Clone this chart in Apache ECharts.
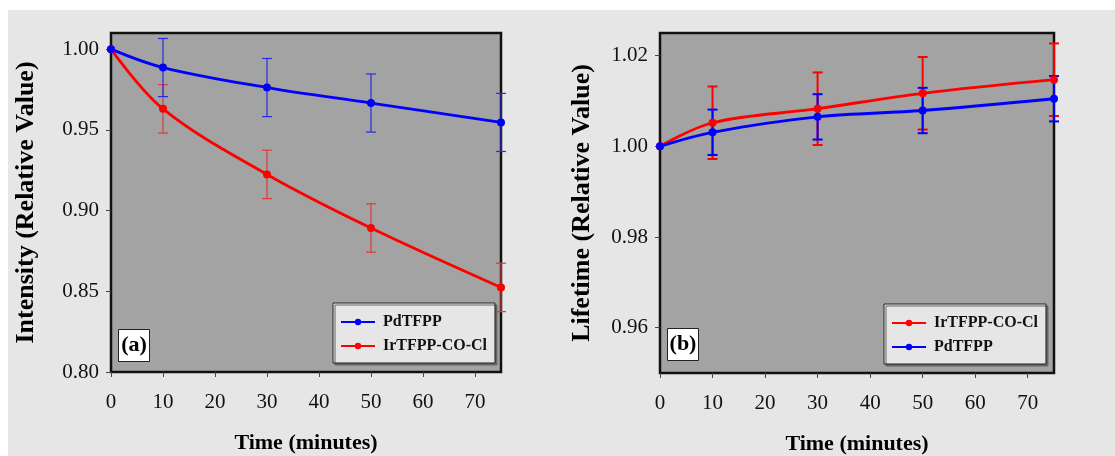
<!DOCTYPE html>
<html>
<head>
<meta charset="utf-8">
<script src="https://cdn.jsdelivr.net/npm/echarts@6/dist/echarts.min.js"></script>
<style>
  html, body { margin: 0; padding: 0; background: #fff; }
  #chart { width: 1115px; height: 456px; }
</style>
</head>
<body>
<div id="chart"></div>
<script>
// sampling times (minutes)
const timeMin = [0, 10, 30, 50, 75]
const xTicks = [0, 10, 20, 30, 40, 50, 60, 70]

// (a) intensity, relative value
const intPd = [1.000, 0.9886, 0.9762, 0.9666, 0.9546]
const intPdErr = [0, 0.018, 0.018, 0.018, 0.018]
const intIr = [1.000, 0.9630, 0.9224, 0.8892, 0.8524]
const intIrErr = [0, 0.015, 0.015, 0.015, 0.015]
const intTicks = [0.80, 0.85, 0.90, 0.95, 1.00]

// (b) lifetime, relative value
const lifeIr = [1.000, 1.0052, 1.0083, 1.0117, 1.0147]
const lifeIrErr = [0, 0.008, 0.008, 0.008, 0.008]
const lifePd = [1.000, 1.0031, 1.0065, 1.0079, 1.0105]
const lifePdErr = [0, 0.005, 0.005, 0.005, 0.005]
const lifeTicks = [0.96, 0.98, 1.00, 1.02]

const FONT = 'Liberation Serif'
const BLUE = '#0000ff'
const RED = '#ff0000'

const myChart = echarts.init(document.getElementById('chart'))

const lineSeries = (name, ys, color, idx) => ({
  name: name,
  type: 'line',
  xAxisIndex: idx,
  yAxisIndex: idx,
  data: timeMin.map((t, i) => [t, ys[i]]),
  smooth: 0.35,
  symbol: 'circle',
  symbolSize: 8,
  lineStyle: { color: color, width: 2.8 },
  itemStyle: { color: color },
  z: 5
})

// error bars drawn with a custom series
const errSeries = (name, ys, errs, color, width, idx) => ({
  name: name,
  type: 'custom',
  xAxisIndex: idx,
  yAxisIndex: idx,
  clip: false,
  silent: true,
  z: 3,
  data: timeMin
    .map((t, i) => [t, ys[i] - errs[i], ys[i] + errs[i], errs[i]])
    .filter(d => d[3] > 0),
  renderItem: function (params, api) {
    const top = api.coord([api.value(0), api.value(2)])
    const bot = api.coord([api.value(0), api.value(1)])
    const cap = 5
    const style = { stroke: color, lineWidth: width }
    return {
      type: 'group',
      children: [
        { type: 'line', shape: { x1: top[0], y1: top[1], x2: bot[0], y2: bot[1] }, style: style },
        { type: 'line', shape: { x1: top[0] - cap, y1: top[1], x2: top[0] + cap, y2: top[1] }, style: style },
        { type: 'line', shape: { x1: bot[0] - cap, y1: bot[1], x2: bot[0] + cap, y2: bot[1] }, style: style }
      ]
    }
  }
})

const xAxisOf = (idx) => ({
  type: 'value',
  gridIndex: idx,
  min: 0,
  max: 75,
  name: 'Time (minutes)',
  nameLocation: 'middle',
  nameGap: 60,
  nameTextStyle: { fontFamily: FONT, fontSize: 22, fontWeight: 'bold', color: '#000' },
  axisLine: { show: false },
  axisTick: { show: true, customValues: xTicks, length: 5, lineStyle: { color: '#444' } },
  axisLabel: { customValues: xTicks, fontFamily: FONT, fontSize: 21, color: '#111', margin: 20 },
  splitLine: { show: false }
})

const yAxisOf = (idx, min, max, ticks, digits, title, gap) => ({
  type: 'value',
  gridIndex: idx,
  min: min,
  max: max,
  name: title,
  nameLocation: 'middle',
  nameGap: gap,
  nameTextStyle: { fontFamily: FONT, fontSize: 26, fontWeight: 'bold', color: '#000' },
  axisLine: { show: false },
  axisTick: { show: true, customValues: ticks, length: 5, lineStyle: { color: '#444' } },
  axisLabel: {
    customValues: ticks,
    fontFamily: FONT,
    fontSize: 21,
    color: '#111',
    margin: 12,
    formatter: v => v.toFixed(digits)
  },
  splitLine: { show: false }
})

const legendOf = (left, top, names) => ({
  left: left,
  top: top,
  orient: 'vertical',
  data: names,
  backgroundColor: '#e6e6e6',
  borderColor: '#222',
  borderWidth: 1,
  shadowColor: '#666',
  shadowOffsetX: 2,
  shadowOffsetY: 2,
  padding: [11, 8, 9, 7],
  itemGap: 8,
  itemWidth: 34,
  itemHeight: 8,
  selectedMode: false,
  textStyle: { fontFamily: FONT, fontSize: 16, fontWeight: 'bold', color: '#111', padding: [0, 0, 0, 3] }
})

const tagOf = (x, y, label) => ({
  type: 'group',
  left: x,
  top: y,
  z: 100,
  children: [
    { type: 'rect', shape: { x: 0, y: 0, width: 31, height: 32 }, style: { fill: '#fff', stroke: '#222', lineWidth: 1 } },
    { type: 'text', x: 15.5, y: 16, style: { text: label, fontFamily: FONT, fontSize: 22, fontWeight: 'bold', fill: '#000', align: 'center', verticalAlign: 'middle' } }
  ]
})

const option = {
  backgroundColor: '#fff',
  animation: false,
  graphic: [
    { type: 'rect', left: 8, top: 10, z: -100, shape: { width: 1107, height: 446 }, style: { fill: '#e6e6e6' } },
    tagOf(118, 329, '(a)'),
    tagOf(667, 328, '(b)')
  ],
  grid: [
    { left: 111, top: 33, width: 390, height: 339, outerBoundsMode: 'none', show: true, backgroundColor: '#a3a3a3', borderColor: '#111', borderWidth: 2.5 },
    { left: 660, top: 33, width: 394, height: 340, outerBoundsMode: 'none', show: true, backgroundColor: '#a3a3a3', borderColor: '#111', borderWidth: 2.5 }
  ],
  xAxis: [xAxisOf(0), xAxisOf(1)],
  yAxis: [
    yAxisOf(0, 0.80, 1.01, intTicks, 2, 'Intensity (Relative Value)', 72),
    yAxisOf(1, 0.95, 1.025, lifeTicks, 2, 'Lifetime (Relative Value)', 65)
  ],
  legend: [
    legendOf(333, 303, ['PdTFPP', 'IrTFPP-CO-Cl']),
    legendOf(884, 304, ['IrTFPP-CO-Cl', 'PdTFPP'])
  ],
  series: [
    errSeries('err-a-ir', intIr, intIrErr, '#e03a3a', 1.2, 0),
    errSeries('err-a-pd', intPd, intPdErr, '#2a2ae0', 1.2, 0),
    lineSeries('IrTFPP-CO-Cl', intIr, RED, 0),
    lineSeries('PdTFPP', intPd, BLUE, 0),
    errSeries('err-b-ir', lifeIr, lifeIrErr, RED, 2, 1),
    errSeries('err-b-pd', lifePd, lifePdErr, BLUE, 2, 1),
    lineSeries('IrTFPP-CO-Cl', lifeIr, RED, 1),
    lineSeries('PdTFPP', lifePd, BLUE, 1)
  ]
}

myChart.setOption(option)
</script>
</body>
</html>
